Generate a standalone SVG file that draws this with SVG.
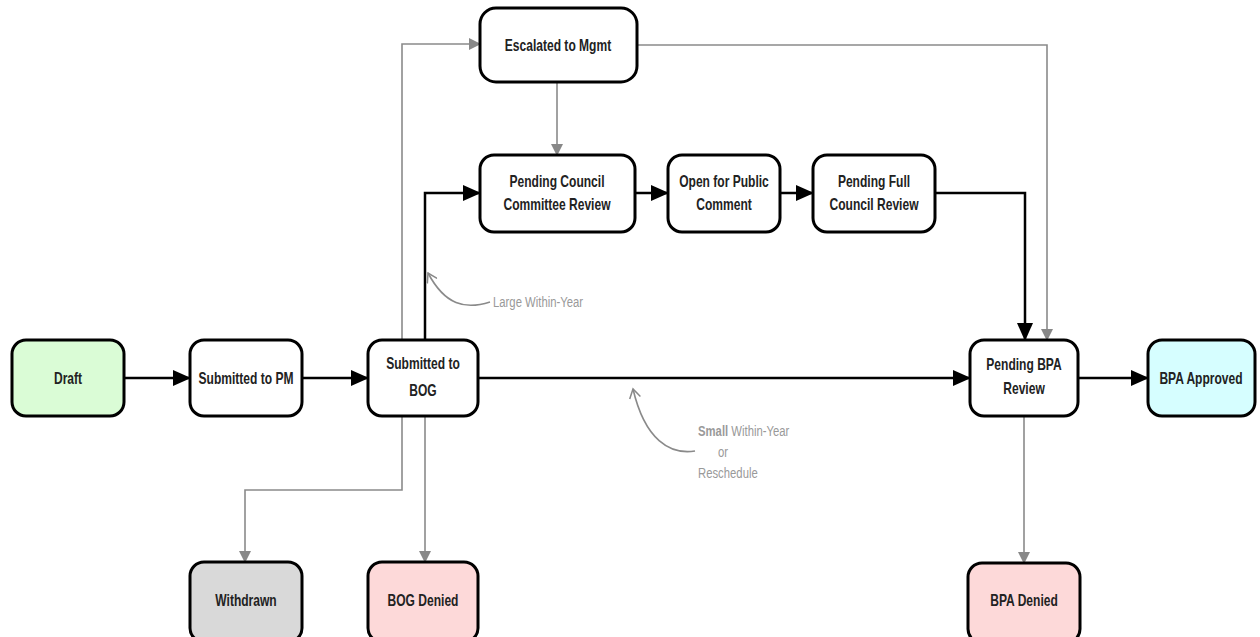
<svg xmlns="http://www.w3.org/2000/svg" width="1260" height="637" viewBox="0 0 1260 637">
<defs>
<style>
.n{stroke:#000;stroke-width:3;fill:#fff}
.t{font-family:"Liberation Sans",Arial,sans-serif;font-weight:bold;font-size:16.5px;fill:#222;text-anchor:middle}
.k{stroke:#000;stroke-width:2.5;fill:none}
.g{stroke:#8a8a8a;stroke-width:1.6;fill:none}
.l{font-family:"Liberation Sans",Arial,sans-serif;font-size:14.5px;fill:#999}
</style>
<marker id="ab" markerWidth="18" markerHeight="16" refX="17" refY="8" orient="auto" markerUnits="userSpaceOnUse"><path d="M0,0 L18,8 L0,16 Z" fill="#000"/></marker>
<marker id="ag" markerWidth="12" markerHeight="12" refX="11" refY="6" orient="auto" markerUnits="userSpaceOnUse"><path d="M0,0 L12,6 L0,12 Z" fill="#888"/></marker>
<marker id="ac" markerWidth="12" markerHeight="12" refX="10" refY="6" orient="auto" markerUnits="userSpaceOnUse"><path d="M1,0.5 L10,6 L1,11.5" fill="none" stroke="#888" stroke-width="1.5"/></marker>
</defs>
<rect width="1260" height="637" fill="#fff"/>
<g id="connectors">
<path class="k" d="M124,378 H190" marker-end="url(#ab)"/>
<path class="k" d="M302,378 H368" marker-end="url(#ab)"/>
<path class="k" d="M478,378 H970" marker-end="url(#ab)"/>
<path class="k" d="M1078,378 H1148" marker-end="url(#ab)"/>
<path class="k" d="M425,340 V193 H480" marker-end="url(#ab)"/>
<path class="k" d="M635,193 H668" marker-end="url(#ab)"/>
<path class="k" d="M780,193 H813" marker-end="url(#ab)"/>
<path class="k" d="M935,193 H1025 V340" marker-end="url(#ab)"/>
<path class="g" d="M402,340 V44 H480" marker-end="url(#ag)"/>
<path class="g" d="M402,416 V490 H245 V562" marker-end="url(#ag)"/>
<path class="g" d="M425,416 V562" marker-end="url(#ag)"/>
<path class="g" d="M557,82 V155" marker-end="url(#ag)"/>
<path class="g" d="M637,45 H1047 V340" marker-end="url(#ag)"/>
<path class="g" d="M1024,416 V563" marker-end="url(#ag)"/>
<path class="g" d="M490,302 C465,310 445,305 428,273" marker-end="url(#ac)"/>
<path class="g" d="M695,451 C670,455 645,440 633,389" marker-end="url(#ac)"/>
</g>
<g id="lbl-large"><text class="l" transform="translate(493,307) scale(0.78,1)">Large Within-Year</text></g>
<g id="lbl-small">
<text class="l" transform="translate(698,436) scale(0.78,1)"><tspan font-weight="bold">Small</tspan> Within-Year</text>
<text class="l" transform="translate(718,457) scale(0.78,1)">or</text>
<text class="l" transform="translate(698,478) scale(0.78,1)">Reschedule</text>
</g>
<g id="draft"><rect class="n" x="12" y="340" width="112" height="76" rx="14" style="fill:#dafcd6"/><text class="t" transform="translate(68,384) scale(0.73,1)">Draft</text></g>
<g id="pm"><rect class="n" x="190" y="340" width="112" height="76" rx="14"/><text class="t" transform="translate(246,384) scale(0.73,1)">Submitted to PM</text></g>
<g id="bog"><rect class="n" x="368" y="340" width="110" height="76" rx="14"/><text class="t" transform="translate(423,369) scale(0.73,1)">Submitted to</text><text class="t" transform="translate(423,396) scale(0.73,1)">BOG</text></g>
<g id="esc"><rect class="n" x="480" y="8" width="157" height="74" rx="16"/><text class="t" transform="translate(558,51) scale(0.73,1)">Escalated to Mgmt</text></g>
<g id="pccr"><rect class="n" x="480" y="155" width="155" height="77" rx="14"/><text class="t" transform="translate(557,187) scale(0.73,1)">Pending Council</text><text class="t" transform="translate(557,210) scale(0.73,1)">Committee Review</text></g>
<g id="opc"><rect class="n" x="668" y="155" width="112" height="77" rx="14"/><text class="t" transform="translate(724,187) scale(0.73,1)">Open for Public</text><text class="t" transform="translate(724,210) scale(0.73,1)">Comment</text></g>
<g id="pfcr"><rect class="n" x="813" y="155" width="122" height="77" rx="14"/><text class="t" transform="translate(874,187) scale(0.73,1)">Pending Full</text><text class="t" transform="translate(874,210) scale(0.73,1)">Council Review</text></g>
<g id="bpar"><rect class="n" x="970" y="340" width="108" height="76" rx="14"/><text class="t" transform="translate(1024,370) scale(0.73,1)">Pending BPA</text><text class="t" transform="translate(1024,394) scale(0.73,1)">Review</text></g>
<g id="bpaa"><rect class="n" x="1148" y="340" width="107" height="76" rx="14" style="fill:#d6feff"/><text class="t" transform="translate(1201,384) scale(0.73,1)">BPA Approved</text></g>
<g id="withdrawn"><rect class="n" x="190" y="562" width="112" height="80" rx="14" style="fill:#d9d9d9"/><text class="t" transform="translate(246,606) scale(0.73,1)">Withdrawn</text></g>
<g id="bogd"><rect class="n" x="368" y="562" width="110" height="80" rx="14" style="fill:#fdd9d9"/><text class="t" transform="translate(423,606) scale(0.73,1)">BOG Denied</text></g>
<g id="bpad"><rect class="n" x="968" y="563" width="112" height="80" rx="14" style="fill:#fdd9d9"/><text class="t" transform="translate(1024,606) scale(0.73,1)">BPA Denied</text></g>
</svg>
